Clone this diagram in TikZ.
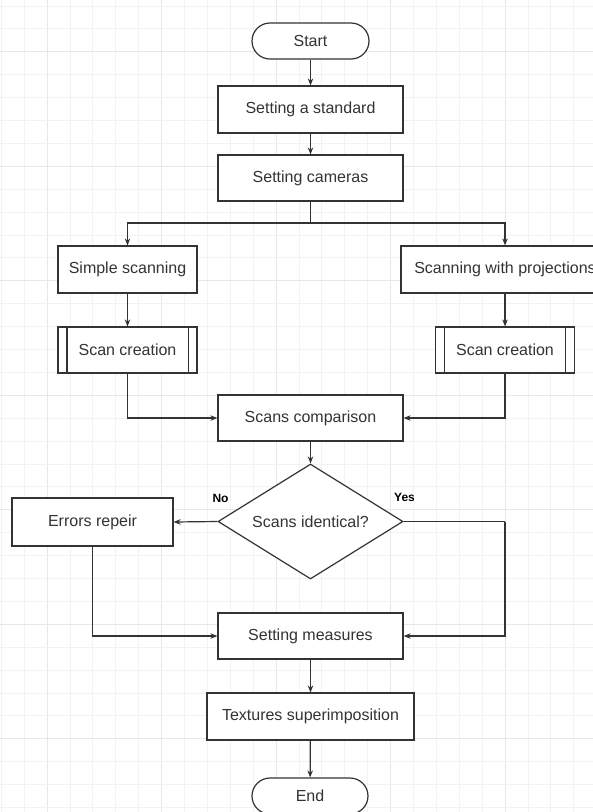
\documentclass[tikz,border=0pt]{standalone}
\usepackage{fontspec}
\setmainfont{Liberation Sans}
\usetikzlibrary{shapes.geometric,arrows.meta,calc}
\definecolor{ink}{HTML}{333333}
\definecolor{gridminor}{HTML}{F2F2F2}
\definecolor{gridmajor}{HTML}{E8E8E8}
\tikzset{
  box/.style={draw=ink, line width=1.2pt, fill=white, inner sep=0pt, text=ink, font=\fontsize{16}{18}\selectfont},
  term/.style={box, rounded corners=18pt, minimum width=117pt, minimum height=36pt},
  proc/.style={box, minimum height=47pt},
  dec/.style={box, diamond, minimum width=185pt, minimum height=115pt},
  arr/.style={draw=ink, line width=1.2pt, -{Stealth[length=7pt,width=5.5pt]}},
  ln/.style={draw=ink, line width=1.2pt},
  yn/.style={font=\bfseries\fontsize{12}{14}\selectfont, text=black, inner sep=0pt}
}
\begin{document}
\begin{tikzpicture}[x=1pt,y=-1pt]
\useasboundingbox (0,0) rectangle (593,812);
\clip (0,0) rectangle (593,812);
\fill[white] (0,0) rectangle (593,812);
% grid
\foreach \k in {0,...,26} {
  \pgfmathsetmacro{\gx}{1.3+22.9*\k}
  \pgfmathtruncatemacro{\m}{mod(\k,5)}
  \ifnum\m=2 \draw[gridmajor, line width=1pt] (\gx,0) -- (\gx,812);
  \else \draw[gridminor, line width=1pt] (\gx,0) -- (\gx,812); \fi
}
\foreach \k in {0,...,35} {
  \pgfmathsetmacro{\gy}{6+22.9*\k}
  \pgfmathtruncatemacro{\m}{mod(\k,5)}
  \ifnum\m=2 \draw[gridmajor, line width=1pt] (0,\gy) -- (593,\gy);
  \else \draw[gridminor, line width=1pt] (0,\gy) -- (593,\gy); \fi
}
% nodes
\node[term] (start) at (310.5,41) {Start};
\node[proc, minimum width=185pt] (std) at (310.5,109.5) {Setting a standard};
\node[proc, minimum width=185pt, minimum height=46pt] (cam) at (310.5,178) {Setting cameras};
\node[proc, minimum width=139pt] (simple) at (127.5,269.5) {Simple scanning};
\node[proc, minimum width=208pt] (proj) at (505,269.5) {Scanning with projections};
\node[proc, minimum width=139pt, minimum height=46pt] (sc1) at (127.5,350) {Scan creation};
\node[proc, minimum width=139pt, minimum height=46pt] (sc2) at (505,350) {Scan creation};
\draw[ln] ([xshift=9.5pt]sc1.north west) -- ([xshift=9.5pt]sc1.south west);
\draw[ln] ([xshift=-9.5pt]sc1.north east) -- ([xshift=-9.5pt]sc1.south east);
\draw[ln] ([xshift=9.5pt]sc2.north west) -- ([xshift=9.5pt]sc2.south west);
\draw[ln] ([xshift=-9.5pt]sc2.north east) -- ([xshift=-9.5pt]sc2.south east);
\node[proc, minimum width=185pt, minimum height=46pt] (comp) at (310.5,418) {Scans comparison};
\node[dec] (dec) at (310.5,521.5) {};
\node[text=ink, font=\fontsize{16}{18}\selectfont, inner sep=0pt] (dectxt) at (dec.center) {Scans identical?};
\node[proc, minimum width=161pt, minimum height=48pt] (err) at (92.5,522) {Errors repeir};
\node[proc, minimum width=185pt, minimum height=46pt] (meas) at (310.5,636) {Setting measures};
\node[proc, minimum width=207pt] (tex) at (310.5,716.5) {Textures superimposition};
\node[term, minimum width=116pt] (end) at (310,796) {End};
\node[yn] (no) at (220.5,498) {No};
\node[yn] (yes) at (404.5,497.5) {Yes};
% connectors
\coordinate (split) at (310.5,223);
\coordinate (yc) at (505,521.5);
\draw[arr] (start) -- (std);
\draw[arr] (std) -- (cam);
\draw[ln] (cam.south) -- (split);
\draw[arr] (split) -| (simple.north);
\draw[arr] (split) -| (proj.north);
\draw[arr] (simple) -- (sc1);
\draw[arr] (proj) -- (sc2);
\draw[arr] (sc1.south) |- (comp.west);
\draw[arr] (sc2.south) |- (comp.east);
\draw[arr] (comp) -- (dec.north);
\draw[arr] (dec.west) -- (err.east);
\draw[arr] (err.south) |- (meas.west);
\draw[ln] (dec.east) -- (yc);
\draw[arr] (yc) |- (meas.east);
\draw[arr] (meas) -- (tex);
\draw[arr] (tex) -- (end);
\end{tikzpicture}
\end{document}
